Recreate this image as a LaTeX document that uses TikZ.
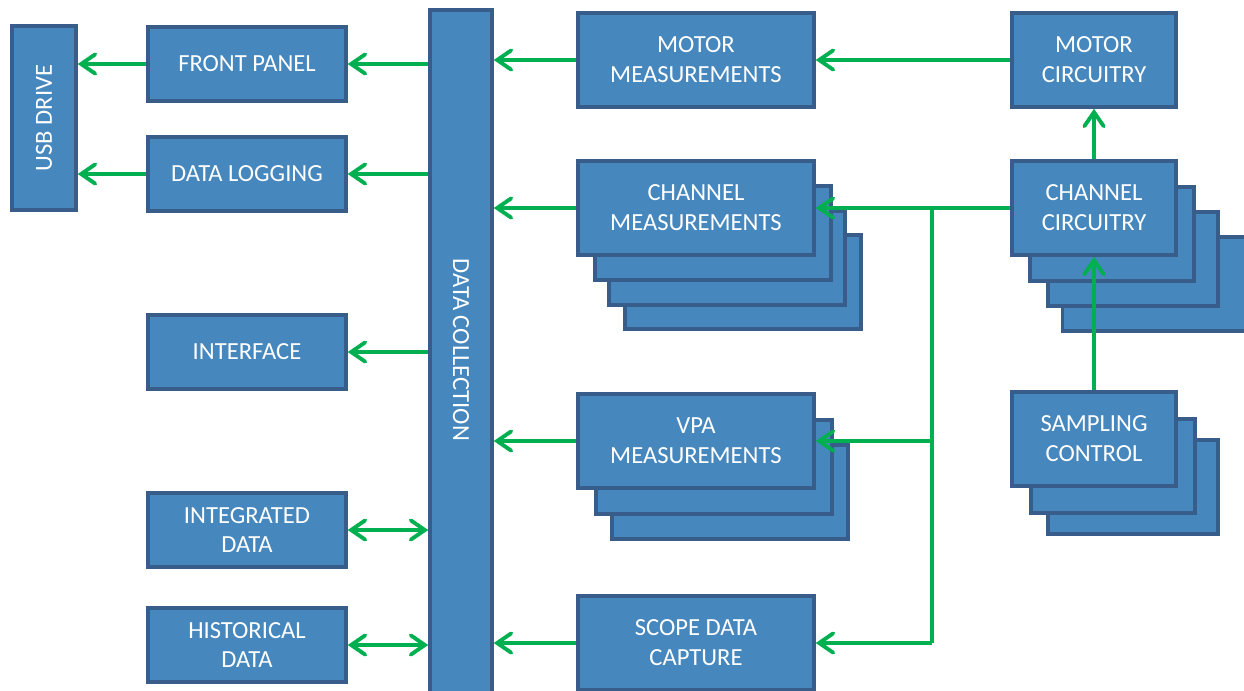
\documentclass[tikz,border=0pt]{standalone}
\usepackage{fontspec}
\setmainfont{Carlito}
\usetikzlibrary{arrows.meta}

\definecolor{blkfill}{RGB}{70,135,190}
\definecolor{blkline}{RGB}{56,93,138}
\definecolor{flowgreen}{RGB}{0,176,80}

\tikzset{
  blk/.style={draw=blkline, fill=blkfill, line width=2pt, text=white,
    font=\fontsize{14}{17}\selectfont, align=center, inner sep=0pt},
  smallblk/.style={blk, minimum width=3.96cm, minimum height=1.48cm},
  measblk/.style={blk, minimum width=4.72cm, minimum height=1.88cm},
  circblk/.style={blk, minimum width=3.28cm, minimum height=1.88cm},
  flow/.style={draw=flowgreen, line width=2.2pt,
    -{Straight Barb[length=8pt,width=11pt,line cap=round]}},
  flow2/.style={flow, {Straight Barb[length=8pt,width=11pt,line cap=round]}-{Straight Barb[length=8pt,width=11pt,line cap=round]}}
}

\begin{document}
\begin{tikzpicture}[x=0.02cm, y=-0.02cm]
  \useasboundingbox (0,0) rectangle (1244,690);

  % left column
  \node[blk, minimum width=1.28cm, minimum height=3.68cm] (usb) at (44,118) {};
  \node[rotate=90, text=white, font=\fontsize{14}{17}\selectfont] (usbtxt) at (usb) {USB DRIVE};
  \node[smallblk] (front) at (247,64) {FRONT PANEL};
  \node[smallblk] (logging) at (247,174) {DATA LOGGING};
  \node[smallblk] (interface) at (247,352) {INTERFACE};
  \node[smallblk] (integrated) at (247,530) {INTEGRATED\\DATA};
  \node[smallblk] (historical) at (247,645) {HISTORICAL\\DATA};

  % data collection bus
  \node[blk, minimum width=1.24cm, minimum height=14cm] (dc) at (461,360) {};
  \node[rotate=-90, text=white, font=\fontsize{14}{17}\selectfont] (dctxt) at (461,350) {DATA COLLECTION};

  % measurement column (stacks drawn back to front)
  \node[measblk] (motmeas) at (696,60) {MOTOR\\MEASUREMENTS};
  \node[measblk] (chmeas4) at (743,282) {};
  \node[measblk] (chmeas3) at (727,258) {};
  \node[measblk] (chmeas2) at (713,233) {};
  \node[measblk] (chmeas) at (696,208) {CHANNEL\\MEASUREMENTS};
  \node[measblk] (vpa3) at (730,492) {};
  \node[measblk] (vpa2) at (714,467) {};
  \node[measblk] (vpa) at (696,441) {VPA\\MEASUREMENTS};
  \node[measblk] (scope) at (696,643) {SCOPE DATA\\CAPTURE};

  % circuitry column
  \node[circblk] (motcirc) at (1094,60) {MOTOR\\CIRCUITRY};
  \node[circblk, minimum width=3.9cm] (chcirc4) at (1160,284) {};
  \node[circblk, minimum width=3.4cm] (chcirc3) at (1133,259) {};
  \node[circblk] (chcirc2) at (1112,234) {};
  \node[circblk] (chcirc) at (1094,208) {CHANNEL\\CIRCUITRY};
  \node[circblk, minimum width=3.4cm] (samp3) at (1133,487) {};
  \node[circblk] (samp2) at (1113,466) {};
  \node[circblk] (samp) at (1094,439) {SAMPLING\\CONTROL};

  % connectors
  \draw[flow] (front.west) -- (front.west -| usb.east);
  \draw[flow] (logging.west) -- (logging.west -| usb.east);
  \draw[flow] (front.east -| dc.west) -- (front.east);
  \draw[flow] (logging.east -| dc.west) -- (logging.east);
  \draw[flow] (interface.east -| dc.west) -- (interface.east);
  \draw[flow2] (integrated.east) -- (integrated.east -| dc.west);
  \draw[flow2] (historical.east) -- (historical.east -| dc.west);

  \draw[flow] (motmeas.west) -- (motmeas.west -| dc.east);
  \draw[flow] (chmeas.west) -- (chmeas.west -| dc.east);
  \draw[flow] (vpa.west) -- (vpa.west -| dc.east);
  \draw[flow] (scope.west) -- (scope.west -| dc.east);

  \draw[flow] (motcirc.west) -- (motcirc.west -| motmeas.east);
  \coordinate (jn) at (932,208);
  \draw[flow] (chcirc.west) -- (chmeas.east);
  \draw[draw=flowgreen, line width=2.2pt] (jn) -- (jn |- scope.east);
  \draw[flow] (jn |- vpa.east) -- (vpa.east);
  \draw[flow] (jn |- scope.east) -- (scope.east);
  \draw[flow] (chcirc.north) -- (motcirc.south);
  \draw[flow] (samp.north) -- (chcirc.south);
\end{tikzpicture}
\end{document}
